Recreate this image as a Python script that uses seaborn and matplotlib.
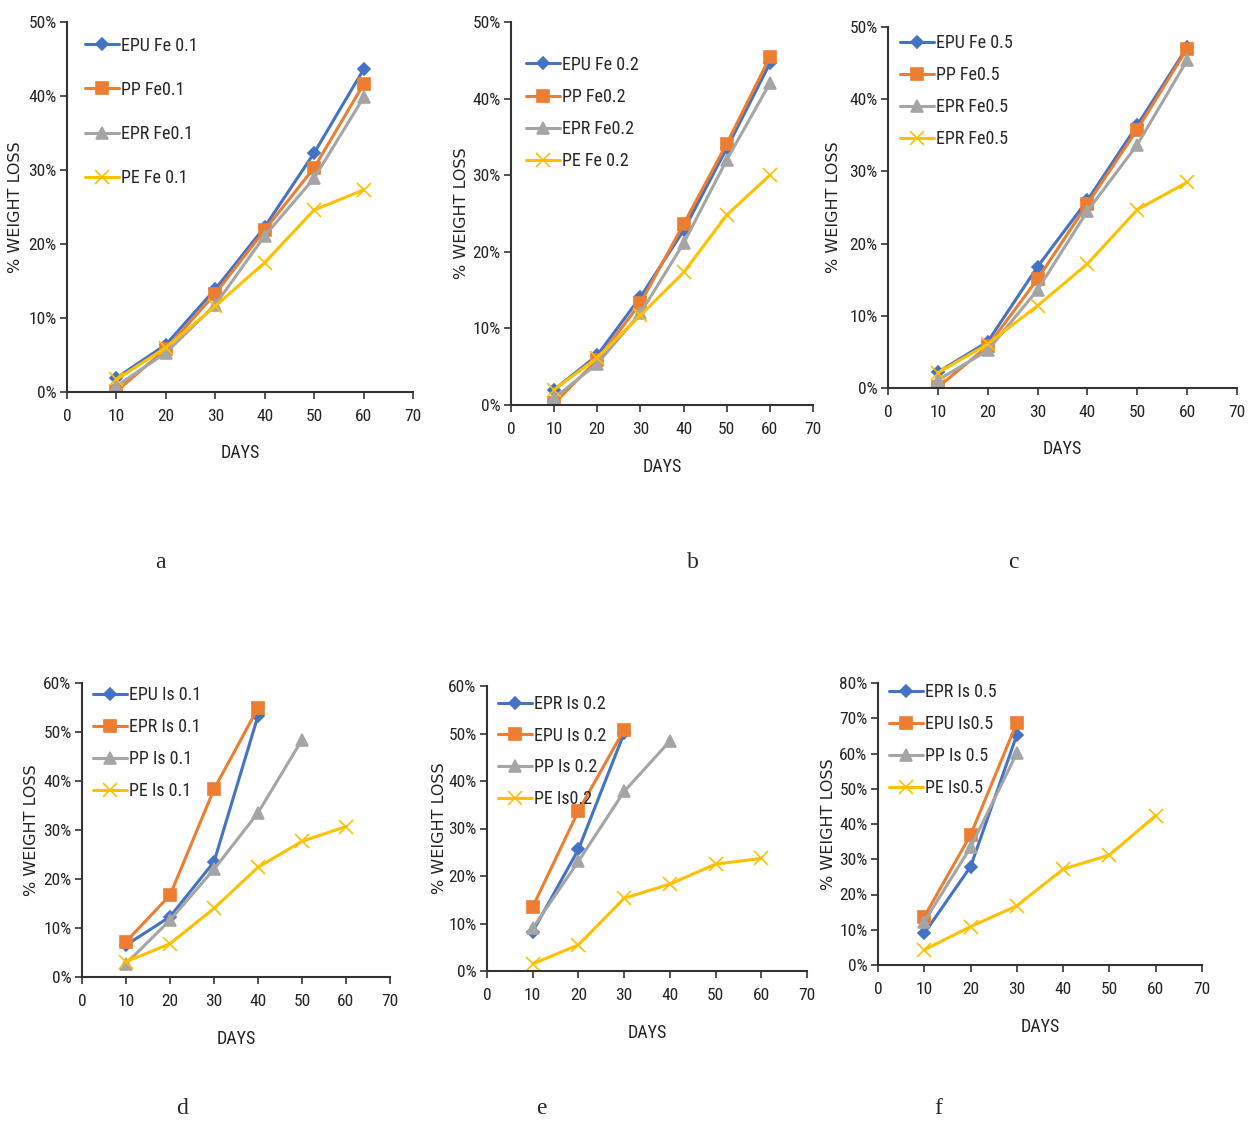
import numpy as np
import pandas as pd
import matplotlib
matplotlib.use("Agg")
import matplotlib.pyplot as plt
import seaborn as sns
from matplotlib.ticker import PercentFormatter, MultipleLocator

# ---- data (% weight loss) ----
days = [10, 20, 30, 40, 50, 60]

# a: Fe 0.1
a_epu = [1.9, 6.4, 13.9, 22.3, 32.3, 43.6]
a_pp = [0.1, 5.8, 13.3, 21.9, 30.3, 41.6]
a_epr = [0.8, 5.3, 11.8, 21.1, 28.9, 39.8]
a_pe = [1.7, 6.0, 11.6, 17.5, 24.6, 27.3]

# b: Fe 0.2
b_epu = [2.0, 6.5, 14.1, 22.8, 33.5, 44.6]
b_pp = [0.2, 5.9, 13.3, 23.6, 34.1, 45.4]
b_epr = [0.9, 5.4, 12.0, 21.1, 32.0, 42.0]
b_pe = [2.0, 6.2, 11.7, 17.3, 24.8, 30.0]

# c: Fe 0.5
c_epu = [2.2, 6.4, 16.8, 26.0, 36.4, 47.2]
c_pp = [0.1, 5.8, 15.1, 25.5, 35.8, 47.0]
c_epr = [1.1, 5.2, 13.6, 24.5, 33.7, 45.4]
c_pe = [2.1, 6.1, 11.4, 17.2, 24.7, 28.5]

# d: Is 0.1
d_epu = [6.5, 12.3, 23.5, 53.3]
d_epr = [7.2, 16.7, 38.3, 54.9]
d_pp = [2.7, 11.6, 22.0, 33.5, 48.4]
d_pe = [3.1, 6.8, 14.0, 22.4, 27.7, 30.7]

# e: Is 0.2
e_epr = [8.3, 25.6, 50.1]
e_epu = [13.5, 33.7, 50.8]
e_pp = [9.0, 23.1, 37.8, 48.4]
e_pe = [1.5, 5.5, 15.3, 18.3, 22.5, 23.7]

# f: Is 0.5
f_epr = [9.0, 27.9, 65.3]
f_epu = [13.7, 36.9, 68.7]
f_pp = [12.3, 33.4, 60.1]
f_pe = [4.3, 10.9, 16.8, 27.2, 31.2, 42.4]

panels = [
    ("a", [("EPU Fe 0.1", a_epu), ("PP Fe0.1", a_pp), ("EPR Fe0.1", a_epr), ("PE Fe 0.1", a_pe)], 50),
    ("b", [("EPU Fe 0.2", b_epu), ("PP Fe0.2", b_pp), ("EPR Fe0.2", b_epr), ("PE Fe 0.2", b_pe)], 50),
    ("c", [("EPU Fe 0.5", c_epu), ("PP Fe0.5", c_pp), ("EPR Fe0.5", c_epr), ("EPR Fe0.5", c_pe)], 50),
    ("d", [("EPU Is 0.1", d_epu), ("EPR Is 0.1", d_epr), ("PP Is 0.1", d_pp), ("PE Is 0.1", d_pe)], 60),
    ("e", [("EPR Is 0.2", e_epr), ("EPU Is 0.2", e_epu), ("PP Is 0.2", e_pp), ("PE Is0.2", e_pe)], 60),
    ("f", [("EPR Is 0.5", f_epr), ("EPU Is0.5", f_epu), ("PP Is 0.5", f_pp), ("PE Is0.5", f_pe)], 80),
]

colors = ["#4472C4", "#ED7D31", "#A5A5A5", "#FFC000"]
markers = ["D", "s", "^", "x"]
msizes = [6, 8, 8, 10]

sns.set_style("ticks")
plt.rcParams["font.family"] = ["Roboto Condensed", "Liberation Sans Narrow", "Liberation Sans", "DejaVu Sans"]

W, H = 1251, 1124
fig = plt.figure(figsize=(W / 100, H / 100), dpi=100)

# axes boxes in pixels: left, right, top, bottom
boxes = [
    (67, 413, 22, 392),
    (511, 813, 22, 405),
    (888, 1237, 27, 388),
    (82, 390, 683, 977),
    (487, 807, 686, 971),
    (878, 1202, 683, 965),
]
legend_spacing = [1.45, 0.78, 0.78, 0.78, 0.76, 0.78]
legend_anchor = [(0.02, 0.99), (0.013, 0.94), (0.003, 1.011),
                 (0.0, 1.027), (0.0, 1.007), (0.0, 1.039)]
ylabel_x = [-0.127, -0.14, -0.135, -0.14, -0.125, -0.13]
letter_pos = [(160, 563), (693, 563), (1013, 563), (182, 1108), (541, 1108), (938, 1108)]

for i, ((letter, series, ymax), (l, r, t, b)) in enumerate(zip(panels, boxes)):
    ax = fig.add_axes([l / W, 1 - b / H, (r - l) / W, (b - t) / H])
    for j, (name, vals) in enumerate(series):
        sns.lineplot(x=days[:len(vals)], y=vals, ax=ax, color=colors[j],
                     marker=markers[j], markersize=msizes[j], linewidth=2.2,
                     markeredgecolor=colors[j], markeredgewidth=1.2, label=name)
    ax.set_xlim(0, 70)
    ax.set_ylim(0, ymax)
    ax.xaxis.set_major_locator(MultipleLocator(10))
    ax.yaxis.set_major_locator(MultipleLocator(10))
    ax.yaxis.set_major_formatter(PercentFormatter(100, decimals=0))
    sns.despine(ax=ax)
    for s in ["left", "bottom"]:
        ax.spines[s].set_color("#333333")
        ax.spines[s].set_linewidth(1.5)
    ax.tick_params(axis="both", labelsize=12.5, length=5, width=1.2, color="#333333",
                   labelcolor="#222222")
    ax.tick_params(axis="y", pad=2.5)
    ax.tick_params(axis="x", pad=7)
    ax.set_xlabel("DAYS", fontsize=13, labelpad=15, color="#222222")
    ax.set_ylabel("% WEIGHT LOSS", fontsize=11.5, family="DejaVu Sans", color="#222222")
    ax.yaxis.set_label_coords(ylabel_x[i], 0.5)
    ax.legend(loc="upper left", bbox_to_anchor=legend_anchor[i], frameon=False,
              fontsize=13, labelspacing=legend_spacing[i], handlelength=1.9,
              handletextpad=0.1, borderaxespad=0.2)
    fig.text(letter_pos[i][0] / W, 1 - letter_pos[i][1] / H, letter,
             family="Liberation Serif", fontsize=17, ha="center", va="center")

fig.savefig("out.png", dpi=100, facecolor="white")
